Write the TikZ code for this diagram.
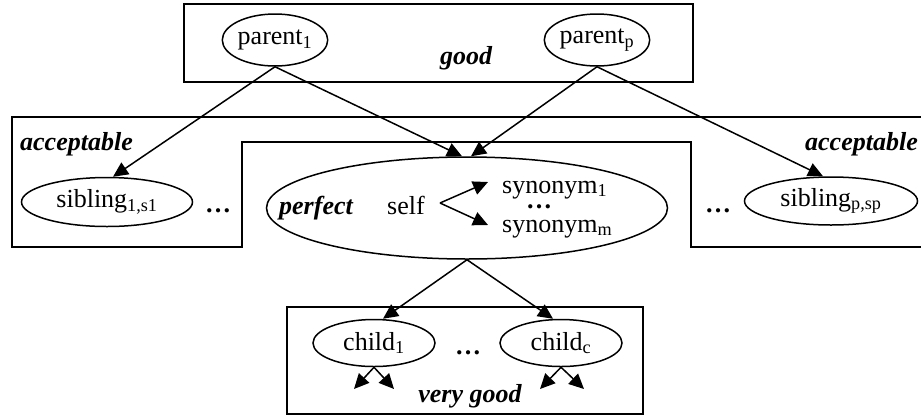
\documentclass[tikz,border=0pt]{standalone}
\usepackage{fontspec}
\setmainfont{Liberation Serif}
\usetikzlibrary{arrows.meta,shapes.geometric}
\begin{document}
\begin{tikzpicture}[x=1pt,y=-1pt,
  txt/.style={font=\fontsize{26}{30}\selectfont, inner sep=0pt},
  lab/.style={font=\fontsize{26}{30}\selectfont\bfseries\itshape, inner sep=0pt},
  dots/.style={font=\fontsize{26}{30}\selectfont\bfseries, inner sep=0pt, text height=4pt, text depth=0pt},
  oval/.style={ellipse, draw, line width=1.5pt, inner sep=0pt, font=\fontsize{26}{30}\selectfont},
  region/.style={draw, line width=1.8pt},
  link/.style={line width=1.5pt, -{Triangle[length=15pt,width=14pt]}},
]
\useasboundingbox (0,0) rectangle (921,416);
% regions
\draw[region] (184,4) rectangle (693,82);
\draw[region] (921,247) -- (691,247) -- (691,142) -- (242,142) -- (242,247) -- (12,247) -- (12,117) -- (921,117);
\draw[region] (287,307) rectangle (643,414);
% labels
\node[lab, anchor=base] (lgood) at (466,64) {good};
\node[lab, anchor=base west] (lacc1) at (20,150) {acceptable};
\node[lab, anchor=base east] (lacc2) at (918,150) {acceptable};
\node[lab, anchor=base] (lperf) at (316,214) {perfect};
\node[lab, anchor=base] (lvg) at (470,402) {very good};
% nodes
\node[oval, minimum width=104pt, minimum height=52pt] (parent1) at (275,40) {parent\textsubscript{1}};
\node[oval, minimum width=102pt, minimum height=52pt] (parentp) at (597,40) {parent\textsubscript{p}};
\node[oval, minimum width=171pt, minimum height=49pt] (sib1) at (107,202) {sibling\textsubscript{1,s1}};
\node[oval, minimum width=173pt, minimum height=48pt] (sibp) at (831,201) {sibling\textsubscript{p,sp}};
\node[oval, minimum width=401pt, minimum height=102pt] (perfect) at (467,208) {};
\node[oval, minimum width=122pt, minimum height=47pt] (child1) at (374,343) {child\textsubscript{1}};
\node[oval, minimum width=122pt, minimum height=47pt] (childc) at (561,343) {child\textsubscript{c}};
% texts inside perfect
\node[txt, anchor=base] (self) at (406,214) {self};
\node[txt, anchor=base west] (syn1) at (502,193) {synonym\textsubscript{1}};
\node[txt, anchor=base west] (synm) at (502,232) {synonym\textsubscript{m}};
\node[dots, anchor=base] (d0) at (539,208) {…};
% dots
\node[dots, anchor=base] (d1) at (218,212) {…};
\node[dots, anchor=base] (d2) at (718,212) {…};
\node[dots, anchor=base] (d3) at (468,354) {…};
% coordinates
\coordinate (fork) at (440,203);
\coordinate (s1tip) at (488,182);
\coordinate (smtip) at (488,225);
\coordinate (c1a) at (354,389);
\coordinate (c1b) at (394,389);
\coordinate (cca) at (540,389);
\coordinate (ccb) at (584,389);
% links
\draw[link] (parent1.south) -- ([xshift=6pt]sib1.north);
\draw[link] (parent1.south) -- ([xshift=-5pt]perfect.north);
\draw[link] (parentp.south) -- ([xshift=4pt]perfect.north);
\draw[link] (parentp.south) -- ([xshift=-8pt]sibp.north);
\draw[link] (perfect.south) -- ([xshift=9pt]child1.north);
\draw[link] (perfect.south) -- ([xshift=-8pt]childc.north);
\draw[link] (fork) -- (s1tip);
\draw[link] (fork) -- (smtip);
\draw[link] (child1.south) -- (c1a);
\draw[link] (child1.south) -- (c1b);
\draw[link] (childc.south) -- (cca);
\draw[link] (childc.south) -- (ccb);
\end{tikzpicture}
\end{document}
